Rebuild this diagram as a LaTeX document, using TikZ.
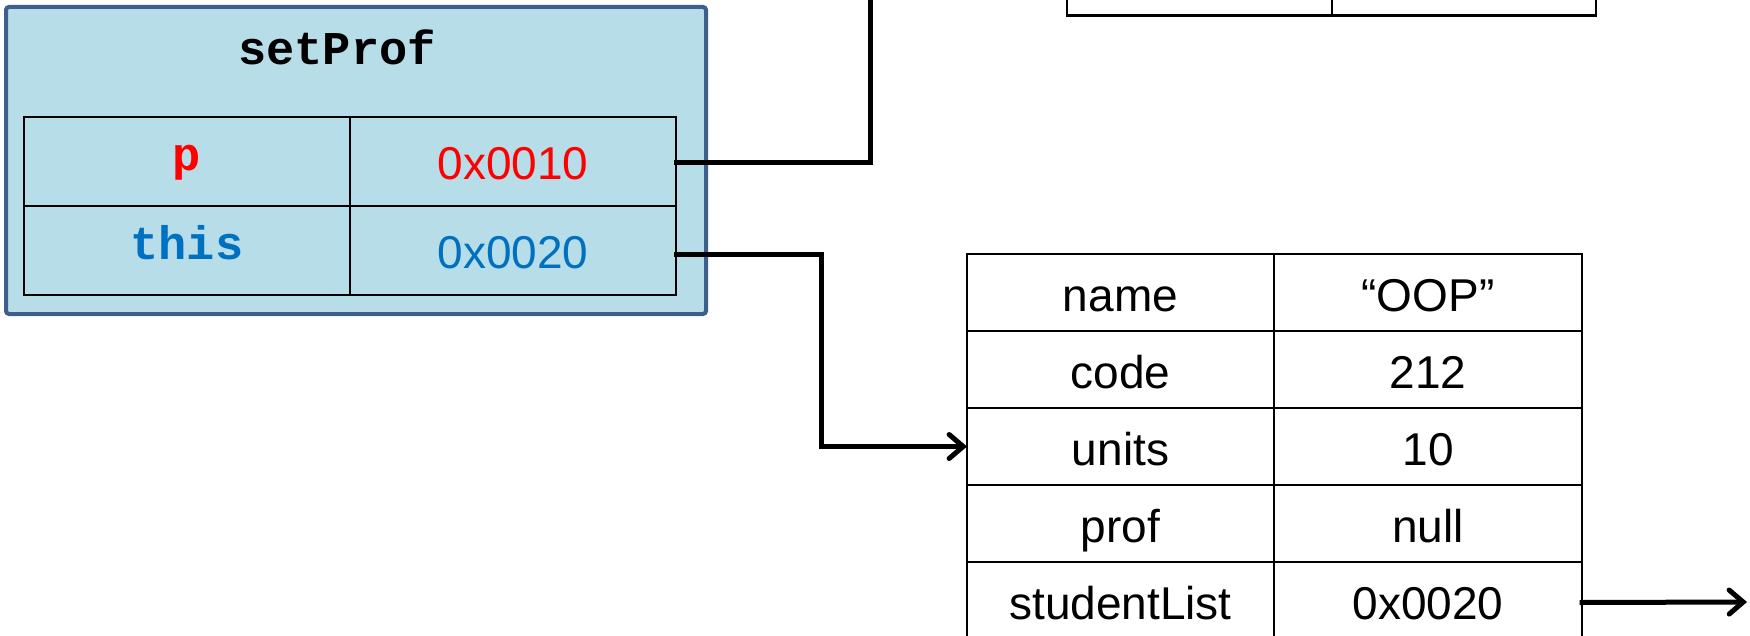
\documentclass[tikz,border=0pt]{standalone}
\usepackage{fontspec}
\setmainfont{Liberation Sans}
\newfontfamily\courfont{Liberation Mono}
\usetikzlibrary{arrows.meta}
\definecolor{framefill}{HTML}{B7DDE8}
\definecolor{framedraw}{HTML}{3C5F8C}
\definecolor{pred}{HTML}{FF0000}
\definecolor{thisblue}{HTML}{0070C0}
\tikzset{
  cell/.style={draw=black, line width=2.5pt, inner sep=0pt, outer sep=0pt,
    font=\fontsize{46}{50}\selectfont, text=black, text height=37pt, text depth=0pt},
  monotext/.style={font=\fontsize{47}{50}\selectfont\courfont\bfseries,
    text height=19pt, text depth=0pt},
  frame/.style={draw=framedraw, fill=framefill, line width=4pt, rounded corners=3pt,
    inner sep=0pt, outer sep=0pt},
  conn/.style={line width=5pt, line cap=rect},
  tip/.style={-{Straight Barb[length=14pt,width=24pt,line cap=round]}}
}
\begin{document}
\begin{tikzpicture}[x=1pt,y=-1pt]
\useasboundingbox (0,0) rectangle (1750,636);
\clip (0,0) rectangle (1750,636);
% setProf frame
\node[frame, minimum width=700pt, minimum height=307pt] (frame) at (356,160.5) {};
\node[monotext, inner sep=0pt] (title) at (337,55.5) {setProf};
\node[cell, minimum width=326pt, minimum height=89pt, monotext, text=pred] (pname) at (187,161.5) {p};
\node[cell, minimum width=326pt, minimum height=89pt, text=pred] (pval) at (513,161.5) {0x0010};
\node[cell, minimum width=326pt, minimum height=89pt, monotext, text=thisblue] (tname) at (187,250.5) {this};
\node[cell, minimum width=326pt, minimum height=89pt, text=thisblue] (tval) at (513,250.5) {0x0020};
% top-right table (partly visible)
\node[cell, minimum width=265pt, minimum height=77pt] (ta) at (1199.5,-22.8) {};
\node[cell, minimum width=264pt, minimum height=77pt] (tb) at (1464,-22.8) {};
% bottom table
\node[cell, minimum width=307pt, minimum height=77pt] (n1) at (1120.5,292.5) {name};
\node[cell, minimum width=308pt, minimum height=77pt] (v1) at (1428,292.5) {“OOP”};
\node[cell, minimum width=307pt, minimum height=77pt] (n2) at (1120.5,369.5) {code};
\node[cell, minimum width=308pt, minimum height=77pt] (v2) at (1428,369.5) {212};
\node[cell, minimum width=307pt, minimum height=77pt] (n3) at (1120.5,446.5) {units};
\node[cell, minimum width=308pt, minimum height=77pt] (v3) at (1428,446.5) {10};
\node[cell, minimum width=307pt, minimum height=77pt] (n4) at (1120.5,523.5) {prof};
\node[cell, minimum width=308pt, minimum height=77pt] (v4) at (1428,523.5) {null};
\node[cell, minimum width=307pt, minimum height=77pt] (n5) at (1120.5,600.5) {studentList};
\node[cell, minimum width=308pt, minimum height=77pt] (v5) at (1428,600.5) {0x0020};
% free ends
\coordinate (upend) at (870,-10);
\coordinate (rightend) at (1747,602);
% connectors
\draw[conn] ([yshift=-1.5pt]pval.east) -| (upend);
\draw[conn, tip] ([yshift=-4pt]tval.east) -- (821,254.5) |- (n3.west);
\draw[conn, tip] ([yshift=-2pt]v5.east) -- (rightend);
\end{tikzpicture}
\end{document}
